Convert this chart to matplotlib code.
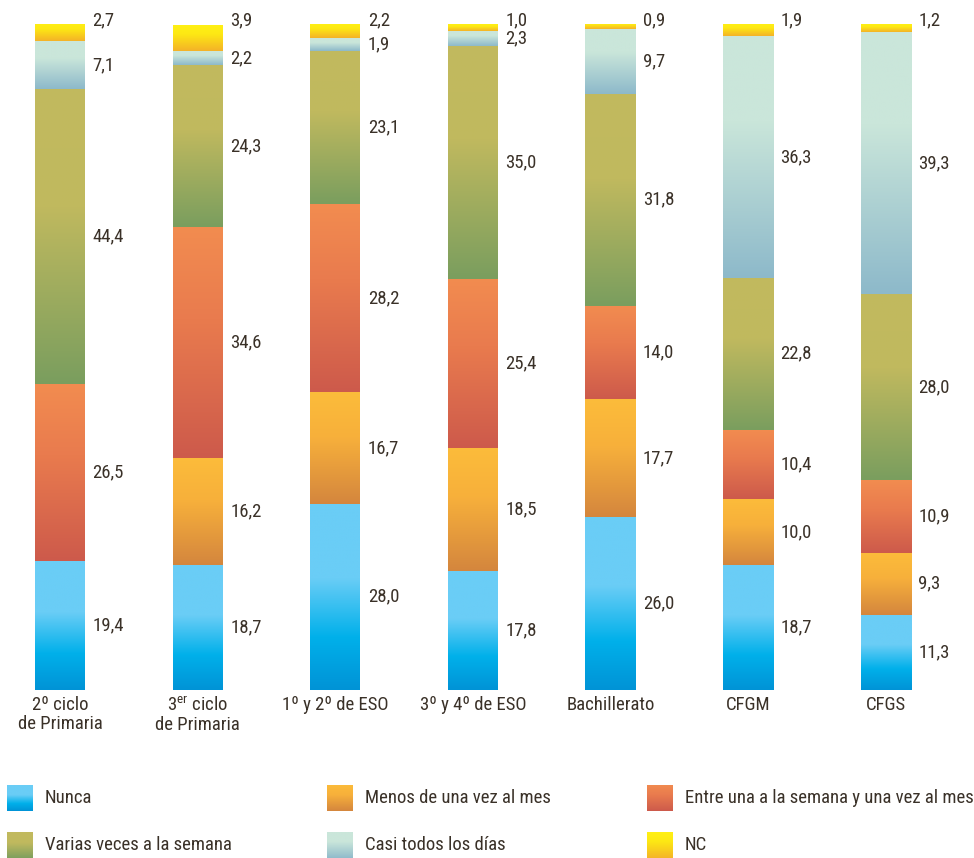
import numpy as np
import matplotlib
matplotlib.use("Agg")
import matplotlib.pyplot as plt
from matplotlib import font_manager
from matplotlib.colors import LinearSegmentedColormap

# Data (percentages), bottom to top
categories = ["2º ciclo\nde Primaria", "3$^{\\rm er}$ ciclo\nde Primaria", "1º y 2º de ESO",
              "3º y 4º de ESO", "Bachillerato", "CFGM", "CFGS"]
series = ["Nunca", "Menos de una vez al mes", "Entre una a la semana y una vez al mes",
          "Varias veces a la semana", "Casi todos los días", "NC"]
nunca = [19.4, 18.7, 28.0, 17.8, 26.0, 18.7, 11.3]
menos = [0.0, 16.2, 16.7, 18.5, 17.7, 10.0, 9.3]
entre = [26.5, 34.6, 28.2, 25.4, 14.0, 10.4, 10.9]
varias = [44.4, 24.3, 23.1, 35.0, 31.8, 22.8, 28.0]
casi = [7.1, 2.2, 1.9, 2.3, 9.7, 36.3, 39.3]
nc = [2.7, 3.9, 2.2, 1.0, 0.9, 1.9, 1.2]
values = [nunca, menos, entre, varias, casi, nc]

# gradient stops (top colour -> bottom colour) for each series
stops = [
    [(0, "#6ACDF6"), (0.4, "#6ACDF6"), (0.72, "#00B0EA"), (1, "#0093D6")],
    [(0, "#FCBC3A"), (0.4, "#F7B03B"), (1, "#D4863E")],
    [(0, "#F28C50"), (0.4, "#E97B4E"), (1, "#CD5A4B")],
    [(0, "#C2BA5E"), (0.4, "#C0B95E"), (1, "#7A9E5F")],
    [(0, "#CAE6DA"), (0.35, "#CAE6DA"), (1, "#8DB9CA")],
    [(0, "#FFF014"), (0.35, "#FDE814"), (1, "#F4B228")],
]
cmaps = [LinearSegmentedColormap.from_list(f"c{i}", s) for i, s in enumerate(stops)]
grad = np.linspace(0, 1, 256).reshape(-1, 1)

# pick a narrow font if one is installed
fonts = font_manager.fontManager.ttflist
names = {f.name for f in fonts}
stretch = "normal"
fam = "Liberation Sans"
scale = 0.9
for cand in ["Liberation Sans Narrow", "Roboto Condensed", "Open Sans Condensed",
             "DejaVu Sans Condensed"]:
    if cand in names:
        fam, scale = cand, 1.0
        break
else:
    if any(f.name == "DejaVu Sans" and f.stretch == "condensed" for f in fonts):
        fam, stretch, scale = "DejaVu Sans", "condensed", 0.95

plt.rcParams["font.family"] = [fam, "DejaVu Sans"]
plt.rcParams["font.stretch"] = stretch
plt.rcParams["mathtext.fontset"] = "custom"
plt.rcParams["mathtext.rm"] = fam
txt = "#3A3128"
fs = 13.5 * scale

W, H = 974, 858
fig = plt.figure(figsize=(W / 100, H / 100), dpi=100)
step = 137.6
ax = fig.add_axes([0, (H - 690) / H, 1, 666 / H])
width = 50 / step

for i in range(len(categories)):
    bottom = 0
    for k, vals in enumerate(values):
        v = vals[i]
        if v <= 0:
            continue
        ax.imshow(grad, cmap=cmaps[k], aspect="auto", interpolation="bilinear",
                  extent=[i - width / 2, i + width / 2, bottom, bottom + v])
        label = f"{v:.1f}".replace(".", ",")
        y = bottom + v / 2
        if k == len(values) - 1:
            y = 100.6
        ax.text(i + width / 2 + 0.055, y, label, fontsize=fs, color=txt,
                ha="left", va="center")
        bottom += v
    ax.text(i, -0.9, categories[i], fontsize=fs, color=txt, ha="center",
            va="top", linespacing=1.1)

ax.set_xlim(-60 / step, (W - 60) / step)
ax.set_ylim(0, 100)
ax.axis("off")

# legend
cols = [7, 327, 647]
rows = [798, 845]
for k, name in enumerate(series):
    px = cols[k % 3]
    py = rows[k // 3]
    lax = fig.add_axes([px / W, (H - py - 13.5) / H, 26 / W, 27 / H])
    lax.imshow(grad, cmap=cmaps[k], aspect="auto", interpolation="bilinear")
    lax.axis("off")
    fig.text((px + 38) / W, (H - py) / H, name, fontsize=fs, color=txt,
             ha="left", va="center")

fig.savefig("out.png", dpi=100)
